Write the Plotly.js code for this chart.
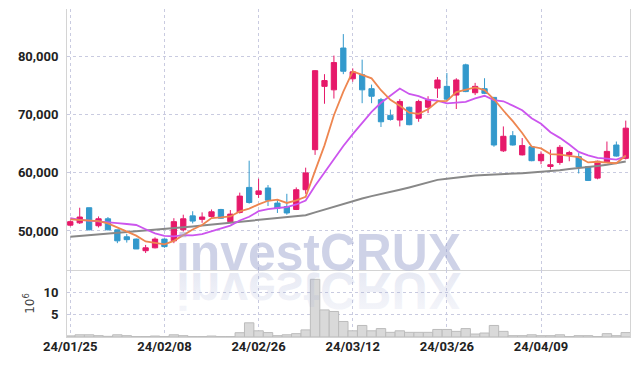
<!DOCTYPE html>
<html>
<head>
<meta charset="utf-8">
<script src="https://cdn.plot.ly/plotly-3.0.1.min.js"></script>
<style>
html,body{margin:0;padding:0;background:#fff;}
#wrap{position:relative;width:639px;height:366px;}
#chart{width:639px;height:366px;}
#wm{position:absolute;left:0;top:0;pointer-events:none;}
</style>
</head>
<body>
<div id="wrap">
<div id="chart"></div>
<svg id="wm" width="639" height="366" xmlns="http://www.w3.org/2000/svg">
  <defs>
    <linearGradient id="fadeGrad" x1="0" y1="0" x2="0" y2="1">
      <stop offset="0" stop-color="rgb(150,160,205)" stop-opacity="0.08"/>
      <stop offset="1" stop-color="rgb(150,160,205)" stop-opacity="0.26"/>
    </linearGradient>
  </defs>
  <text x="176" y="270" font-family="Liberation Sans, Arial, sans-serif" font-weight="bold" font-size="52" textLength="285" lengthAdjust="spacingAndGlyphs" fill="rgb(150,160,205)" fill-opacity="0.47">investCRUX</text>
  <text x="176" y="270" transform="translate(0,543) scale(1,-1)" font-family="Liberation Sans, Arial, sans-serif" font-weight="bold" font-size="52" textLength="285" lengthAdjust="spacingAndGlyphs" fill="url(#fadeGrad)">investCRUX</text>
</svg>
</div>
<script>
// Trading dates (category axis)
var dates = [
  "24/01/25","24/01/26","24/01/29","24/01/30","24/01/31",
  "24/02/01","24/02/02","24/02/05","24/02/06","24/02/07","24/02/08",
  "24/02/13","24/02/14","24/02/15","24/02/16","24/02/19","24/02/20","24/02/21","24/02/22","24/02/23","24/02/26",
  "24/02/27","24/02/28","24/02/29","24/03/04","24/03/05","24/03/06","24/03/07","24/03/08","24/03/11","24/03/12",
  "24/03/13","24/03/14","24/03/15","24/03/18","24/03/19","24/03/20","24/03/21","24/03/22","24/03/25","24/03/26",
  "24/03/27","24/03/28","24/03/29","24/04/01","24/04/02","24/04/03","24/04/04","24/04/05","24/04/08","24/04/09",
  "24/04/11","24/04/12","24/04/15","24/04/16","24/04/17","24/04/18","24/04/19","24/04/22","24/04/23"
];
var tickDates = ["24/01/25","24/02/08","24/02/26","24/03/12","24/03/26","24/04/09"];

var openP = [51000,51400,54000,50900,52100,50200,49000,48600,46600,47100,
             48600,48300,50200,52600,52000,52500,53700,51600,53200,57500,
             56300,57400,54800,54200,53700,57100,64000,74900,74300,81500,
             76200,76900,74500,72600,69900,69100,71300,69400,71300,74600,
             74900,73400,78600,73800,74500,73000,63800,66400,63100,64500,
             62100,61100,61800,63100,62800,61100,59100,61900,64800,62500];
var highP = [51800,54000,54000,52500,52400,50200,49500,48700,47600,48900,
             48700,52200,52800,53400,53200,53700,53800,53600,56600,62100,
             59000,57900,55300,56400,57500,60900,77700,77000,80200,83900,
             78000,79500,75200,72900,70900,72700,71400,72600,73200,76500,
             77200,76300,78800,75500,76300,73000,68000,67200,66000,64600,
             63700,64000,64800,63800,63400,61200,62100,65400,65400,69000];
var lowP  = [50800,51200,50100,50600,50100,47900,48000,46900,46200,47000,
             47100,47900,49900,51300,51400,52300,52100,51500,53000,54700,
             55700,54300,53100,52800,53600,56400,63100,71900,72800,77000,
             75700,72000,72000,67900,69000,68000,68200,68800,70300,72900,
             72600,71000,73900,73400,73600,64500,63600,64700,63000,62000,
             61500,60600,61400,62000,59900,58600,58900,61800,62800,62300];
var closeP = [51600,52400,50200,52100,50200,48300,48500,46900,47100,48600,
              47300,51600,52100,51700,52400,53300,52200,52900,56000,54900,
              56900,55300,53900,53100,57100,60000,77600,75900,79000,77500,
              77400,74300,73200,68800,69200,72300,68300,72300,72600,76000,
              72700,76000,74000,74900,73700,64800,66300,64800,64700,62100,
              63200,61400,64400,63500,61000,58700,62000,63700,62900,67700];

// Moving averages
var ma5 = [52000,51900,51700,51700,51300,50640,49860,49200,48200,47880,
           47680,48300,49340,50260,51020,52220,52340,52500,53360,53860,
           54580,55200,55400,54820,55260,55880,60340,64740,69920,74000,
           77480,76820,76280,74240,72580,71560,70360,70180,70940,72300,
           72380,73920,74260,74720,74260,72680,70740,68900,66860,64540,
           64220,63240,63160,62920,62700,61800,61920,61780,61660,63000];
var ma10 = [52190,51900,51780,51600,51430,51350,51200,51030,50300,49590,
            49160,49080,49270,49230,49450,49950,50320,50920,51810,52440,
            53400,53770,53950,54090,54560,55230,57770,60070,62370,64630,
            66680,68580,70510,72080,73290,74520,73590,73230,72590,72440,
            71970,72140,72220,72830,73280,72530,72330,71580,70790,69400,
            68450,66990,66030,64890,63620,63010,62580,62470,62290,62850];
var ma60 = [49000,49130,49250,49380,49500,49640,49770,49900,50030,50160,
            50290,50450,50620,50790,50950,51120,51290,51450,51620,51790,
            51950,52100,52250,52400,52550,52700,53200,53700,54200,54700,
            55200,55600,56000,56350,56650,57100,57500,57900,58300,58800,
            59000,59200,59400,59550,59650,59700,59760,59850,59950,60050,
            60150,60300,60450,60650,60800,61000,61200,61400,61650,61950];

// Volume in millions of shares
var volume = [0.25,0.5,0.5,0.3,0.15,0.5,0.3,0.1,0.1,0.22,
              0.1,0.5,0.3,0.1,0.1,0.22,0.1,0.1,0.97,3.2,
              1.4,1.0,0.3,0.5,0.75,1.6,13.0,6.1,5.75,3.5,
              1.4,2.6,1.4,1.9,1.05,1.4,1.05,1.05,1.05,1.7,
              1.7,1.27,1.9,0.67,0.9,2.6,1.27,0.3,0.3,0.5,
              0.3,0.3,0.5,0.1,0.3,0.3,0.1,0.75,0.3,1.0];

var upColor = '#e6196a';
var downColor = '#3399cc';

var traces = [
  {
    type: 'candlestick', x: dates, open: openP, high: highP, low: lowP, close: closeP,
    xaxis: 'x', yaxis: 'y',
    increasing: {line: {color: upColor, width: 1}, fillcolor: upColor},
    decreasing: {line: {color: downColor, width: 1}, fillcolor: downColor},
    whiskerwidth: 0, hoverinfo: 'skip', showlegend: false
  },
  {type: 'scatter', mode: 'lines', x: dates, y: ma60, xaxis: 'x', yaxis: 'y',
   line: {color: '#888888', width: 2}, hoverinfo: 'skip', showlegend: false},
  {type: 'scatter', mode: 'lines', x: dates, y: ma10, xaxis: 'x', yaxis: 'y',
   line: {color: '#cc55ee', width: 1.8}, hoverinfo: 'skip', showlegend: false},
  {type: 'scatter', mode: 'lines', x: dates, y: ma5, xaxis: 'x', yaxis: 'y',
   line: {color: '#ee8650', width: 1.8}, hoverinfo: 'skip', showlegend: false},
  {type: 'bar', x: dates, y: volume, xaxis: 'x2', yaxis: 'y2',
   marker: {color: '#d9d9d9', line: {color: '#bcbcbc', width: 1}},
   hoverinfo: 'skip', showlegend: false}
];

var gridC = '#c9cbe0';
var tickFont = {family: 'Roboto, sans-serif', size: 13, color: '#222', weight: 'bold'};

var layout = {
  width: 639, height: 366,
  margin: {l: 67, r: 9, t: 9, b: 29},
  paper_bgcolor: 'rgba(0,0,0,0)', plot_bgcolor: 'rgba(0,0,0,0)',
  showlegend: false, bargap: 0, boxgap: 0.2,
  xaxis: {
    type: 'category', categoryorder: 'array', categoryarray: dates,
    range: [-0.35, 59.45], domain: [0, 1], anchor: 'y',
    tickvals: tickDates, showticklabels: false, ticks: '',
    showgrid: true, gridcolor: gridC, griddash: 'dot', gridwidth: 1,
    showline: true, linecolor: '#d4d4d4', linewidth: 1,
    rangeslider: {visible: false}, fixedrange: true, zeroline: false
  },
  yaxis: {
    domain: [0.2043, 1], range: [43280, 88220], anchor: 'x',
    tickvals: [50000, 60000, 70000, 80000], tickformat: ',d',
    tickfont: tickFont, ticks: 'outside', ticklen: 5, tickcolor: 'rgba(0,0,0,0)',
    showgrid: true, gridcolor: gridC, griddash: 'dot', gridwidth: 1,
    showline: true, mirror: true, linecolor: '#d4d4d4', linewidth: 1,
    zeroline: false, fixedrange: true
  },
  xaxis2: {
    type: 'category', categoryorder: 'array', categoryarray: dates,
    range: [-0.35, 59.45], domain: [0, 1], anchor: 'y2',
    tickvals: tickDates, ticktext: tickDates, tickfont: tickFont,
    ticks: '', ticklabelstandoff: -3,
    showgrid: true, gridcolor: gridC, griddash: 'dot', gridwidth: 1,
    showline: true, linecolor: '#d4d4d4', linewidth: 1,
    zeroline: false, fixedrange: true
  },
  yaxis2: {
    domain: [0, 0.2043], range: [0, 15.1], anchor: 'x2',
    tickvals: [5, 10], ticktext: ['5', '10'], tickfont: tickFont,
    ticks: 'outside', ticklen: 5, tickcolor: 'rgba(0,0,0,0)',
    showgrid: true, gridcolor: gridC, griddash: 'dot', gridwidth: 1,
    showline: true, mirror: true, linecolor: '#d4d4d4', linewidth: 1,
    zeroline: false, fixedrange: true,
    title: {text: '10<sup>6</sup>', font: {family: 'DejaVu Sans, sans-serif', size: 12, color: '#444'}, standoff: 6}
  }
};

Plotly.newPlot('chart', traces, layout, {staticPlot: true, displayModeBar: false});
</script>
</body>
</html>
